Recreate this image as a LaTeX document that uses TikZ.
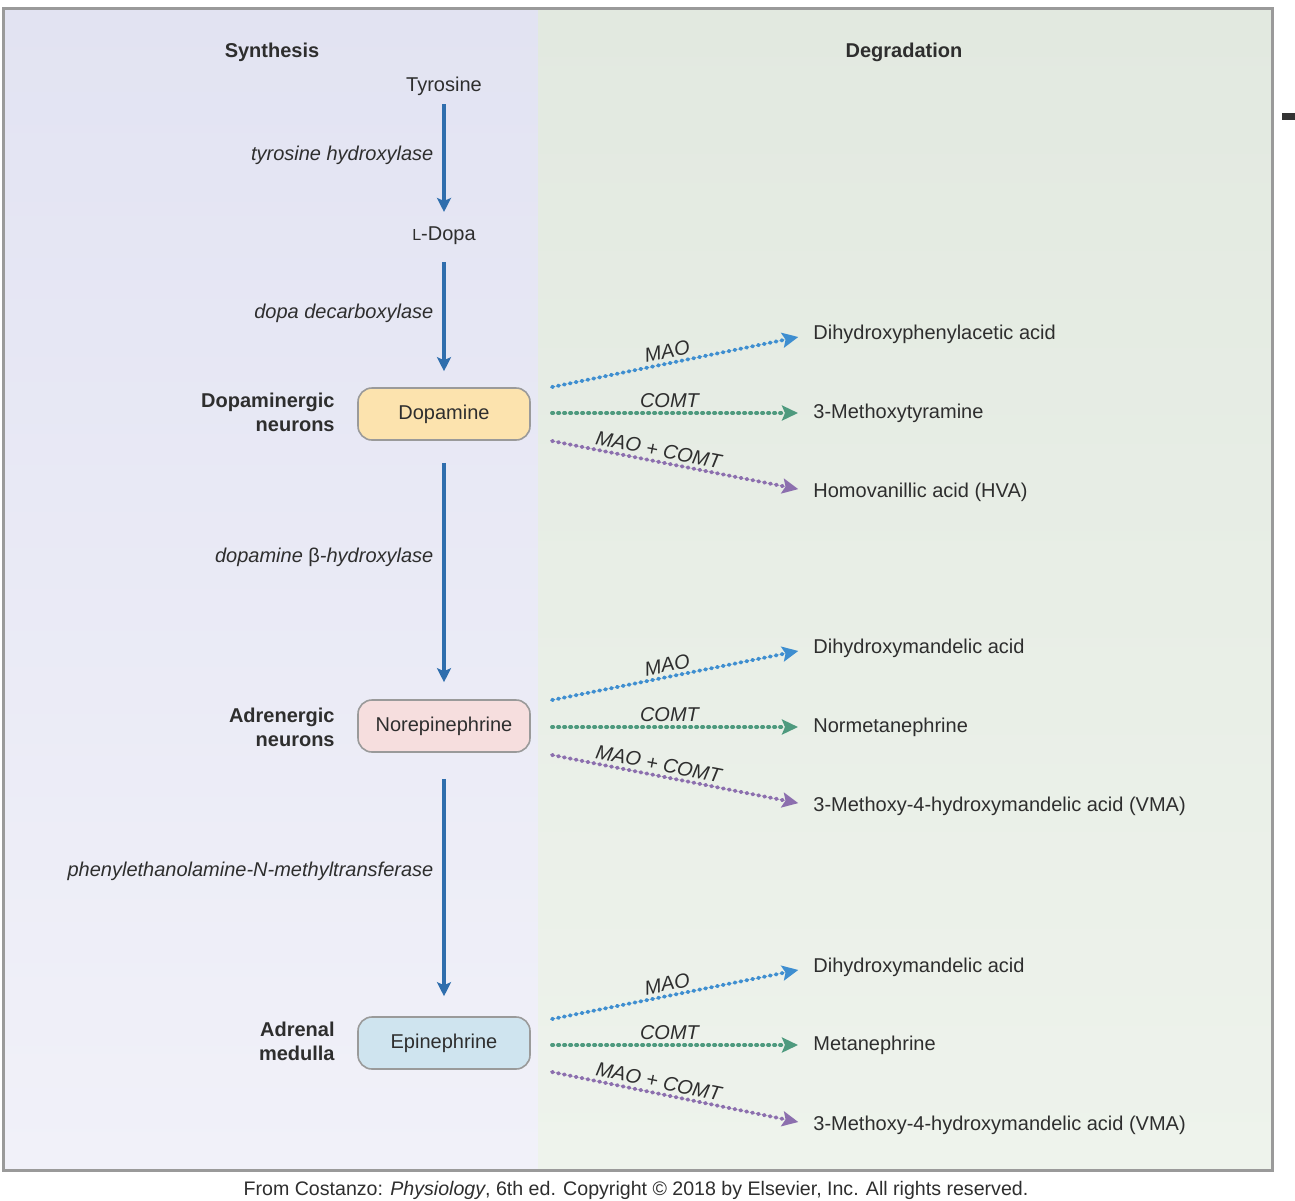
\documentclass[tikz,border=0pt]{standalone}
\usepackage{fontspec}
\setmainfont{Liberation Sans}
\usetikzlibrary{arrows.meta,positioning}
\definecolor{synthtop}{HTML}{E2E3F2}
\definecolor{synthbot}{HTML}{F1F1F9}
\definecolor{degrtop}{HTML}{E2E9E0}
\definecolor{degrbot}{HTML}{EEF3EC}
\definecolor{framegray}{HTML}{9A9A9A}
\definecolor{ink}{HTML}{2E2E2E}
\definecolor{synthblue}{HTML}{2F6EAD}
\definecolor{maoblue}{HTML}{3E8ED0}
\definecolor{comtgreen}{HTML}{4E9A7E}
\definecolor{bothpurple}{HTML}{8C6FAE}
\definecolor{dafill}{HTML}{FCE3AE}
\definecolor{nefill}{HTML}{F6DEDE}
\definecolor{epifill}{HTML}{CFE4EF}

\begin{document}
\begin{tikzpicture}[x=0.5pt, y=-0.5pt,
  every node/.style={text=ink},
  heading/.style={font=\bfseries},
  site/.style={font=\bfseries, align=right, anchor=east, inner sep=0pt},
  enzyme/.style={font=\itshape, left=1pt, pos=0.45},
  amine/.style={draw=framegray, line width=0.8pt, rounded corners=7pt,
                minimum width=86pt, minimum height=26pt},
  product/.style={anchor=west, inner sep=0pt},
  synth/.style={-{Stealth[length=7pt,width=7pt,inset=1.5pt]}, draw=synthblue, line width=2pt},
  degr/.style={-{Stealth[length=8pt,width=7.5pt,inset=1.5pt]}, line width=1.9pt,
               line cap=round, dash pattern=on 0.6pt off 2.4pt, shorten >=7.5pt},
  mao/.style={degr, draw=maoblue, fill=maoblue},
  comt/.style={degr, draw=comtgreen, fill=comtgreen},
  both/.style={degr, draw=bothpurple, fill=bothpurple},
  lbl/.style={font=\itshape, sloped, above, pos=0.45, inner sep=1.5pt}
]
  \useasboundingbox (0,0) rectangle (1295,1200);

  % panels
  \fill[top color=synthtop, bottom color=synthbot] (3,8) rectangle (538,1170);
  \fill[top color=degrtop, bottom color=degrbot] (538,8) rectangle (1272,1170);
  \draw[framegray, line width=1.5pt] (3,8) rectangle (1272,1170);
  \fill[black!80] (1282,113) rectangle (1295,120);

  \node[heading] (synth) at (272,52) {Synthesis};
  \node[heading] (degr) at (904,52) {Degradation};

  % synthesis chain
  \node (tyr) at (444,86) {Tyrosine};
  \node (ldopa) at (444,236) {{\footnotesize L}-Dopa};
  \node[amine, fill=dafill] (dopa) at (444,414) {Dopamine};
  \node[amine, fill=nefill] (nore) at (444,726) {Norepinephrine};
  \node[amine, fill=epifill] (epi) at (444,1043) {Epinephrine};

  \node[site] (dan) at (335,412) {Dopaminergic\\neurons};
  \node[site] (adn) at (335,727) {Adrenergic\\neurons};
  \node[site] (adm) at (335,1041) {Adrenal\\medulla};

  \draw[synth, shorten <=1pt, shorten >=4pt] (tyr) --
    node[enzyme] {tyrosine hydroxylase} (ldopa);
  \draw[synth, shorten <=5pt, shorten >=8pt] (ldopa) --
    node[enzyme] {dopa decarboxylase} (dopa);
  \draw[synth, shorten <=11pt, shorten >=8.5pt] (dopa) --
    node[enzyme] {dopamine \textup{β}-hydroxylase} (nore);
  \draw[synth, shorten <=13pt, shorten >=10pt] (nore) --
    node[enzyme] {phenylethanolamine-N-methyltransferase} (epi);

  % degradation products
  \node[product] (dp1) at (813,334) {Dihydroxyphenylacetic acid};
  \node[product] (dp2) at (813,413) {3-Methoxytyramine};
  \node[product] (dp3) at (813,492) {Homovanillic acid (HVA)};
  \node[product] (np1) at (813,648) {Dihydroxymandelic acid};
  \node[product] (np2) at (813,727) {Normetanephrine};
  \node[product] (np3) at (813,806) {3-Methoxy-4-hydroxymandelic acid (VMA)};
  \node[product] (ep1) at (813,967) {Dihydroxymandelic acid};
  \node[product] (ep2) at (813,1045) {Metanephrine};
  \node[product] (ep3) at (813,1125) {3-Methoxy-4-hydroxymandelic acid (VMA)};

  \coordinate (ds1) at (552,387);
  \coordinate (ds2) at (552,413);
  \coordinate (ds3) at (552,441);
  \coordinate (ns1) at (552,700);
  \coordinate (ns2) at (552,727);
  \coordinate (ns3) at (552,755);
  \coordinate (es1) at (552,1019);
  \coordinate (es2) at (552,1045);
  \coordinate (es3) at (552,1072);

  \foreach \g in {d,n,e} {
    \draw[mao] (\g s1) -- node[lbl] {MAO} (\g p1.west);
    \draw[comt] (\g s2) -- node[lbl] {COMT} (\g p2.west);
    \draw[both] (\g s3) -- node[lbl, pos=0.4] {MAO + COMT} (\g p3.west);
  }

  \node[font=\fontsize{9.8}{12}\selectfont] (credit) at (636,1190)
    {From Costanzo: \textit{Physiology}, 6th ed. Copyright © 2018 by Elsevier, Inc. All rights reserved.};
\end{tikzpicture}
\end{document}
